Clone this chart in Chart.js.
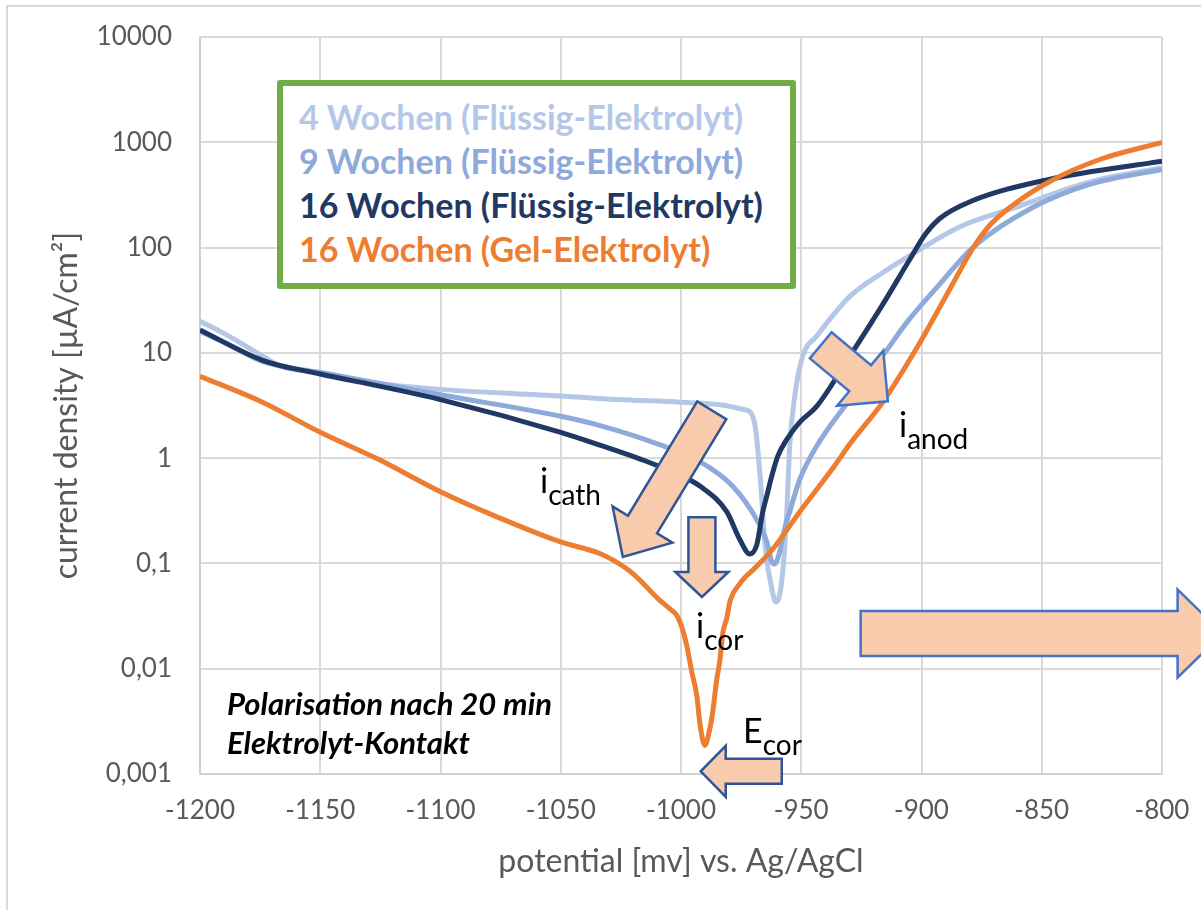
<!DOCTYPE html>
<html lang="de">
<head>
<meta charset="UTF-8" />
<title>Polarisationskurven</title>
<style>
  html, body { margin: 0; padding: 0; background: #fff; overflow: hidden; }
  #wrap { position: relative; width: 1201px; height: 910px; }
  #chart { position: absolute; left: 0; top: 0; }
  .legend {
    position: absolute; left: 277px; top: 80px; width: 519px; height: 209px;
    box-sizing: border-box; border: 6px solid #70ad47; border-radius: 3px;
    background: #fff; padding: 9px 0 0 16px;
    font-family: Lato, sans-serif; font-weight: bold; font-size: 34px; line-height: 44px;
    white-space: nowrap;
  }
  .note {
    position: absolute; left: 227px; top: 684px;
    font-family: Lato, sans-serif; font-weight: bold; font-style: italic;
    font-size: 31px; line-height: 39px; color: #000; white-space: nowrap;
  }
  .lbl {
    position: absolute; font-family: Lato, sans-serif; font-size: 34px; line-height: 1;
    color: #000; white-space: nowrap;
  }
  .lbl sub { font-size: 28px; vertical-align: -12px; line-height: 0; }
</style>
</head>
<body>
<div id="wrap">
  <canvas id="chart" width="1201" height="910"></canvas>

  <div class="legend">
    <div style="color:#b4c7e7">4 Wochen (Flüssig-Elektrolyt)</div>
    <div style="color:#8eaadb">9 Wochen (Flüssig-Elektrolyt)</div>
    <div style="color:#1f3864">16 Wochen (Flüssig-Elektrolyt)</div>
    <div style="color:#ed7d31">16 Wochen (Gel-Elektrolyt)</div>
  </div>

  <div class="note">Polarisation nach 20 min<br>Elektrolyt-Kontakt</div>

  <div class="lbl" style="left:540px; top:463px">i<sub>cath</sub></div>
  <div class="lbl" style="left:899px; top:407px">i<sub>anod</sub></div>
  <div class="lbl" style="left:696px; top:608px">i<sub>cor</sub></div>
  <div class="lbl" style="left:743px; top:713px">E<sub>cor</sub></div>
</div>

<script src="https://cdn.jsdelivr.net/npm/chart.js"></script>
<script>
  // Achsen
  const xTicks = [-1200, -1150, -1100, -1050, -1000, -950, -900, -850, -800];
  const yTicks = [0.001, 0.01, 0.1, 1, 10, 100, 1000, 10000];
  const yTickLabels = ['0,001', '0,01', '0,1', '1', '10', '100', '1000', '10000'];

  const seriesNames = [
    '4 Wochen (Flüssig-Elektrolyt)',
    '9 Wochen (Flüssig-Elektrolyt)',
    '16 Wochen (Flüssig-Elektrolyt)',
    '16 Wochen (Gel-Elektrolyt)'
  ];

  // Potential [mV] / Stromdichte [µA/cm²]
  const pot4 = [-1200, -1188, -1174, -1166, -1150, -1125, -1100, -1050, -1027, -1000, -983, -974, -971, -969, -967, -965, -962, -960.5, -958, -956, -954.8, -952.7, -949.4, -943.6, -930, -916, -902, -884, -860, -830, -800];
  const cur4 = [20, 14.4, 9.3, 7.4, 6.5, 5.1, 4.5, 3.9, 3.6, 3.4, 3.2, 2.9, 2.7, 1.9, 0.63, 0.146, 0.054, 0.043, 0.071, 0.31, 1.3, 3.9, 9.3, 14.4, 34, 58, 92, 158, 245, 420, 575];

  const pot9 = [-1200, -1188, -1174, -1150, -1100, -1050, -1034, -1013, -992, -978.5, -968.5, -964.3, -962.3, -961, -959, -957, -954.8, -950.6, -943.6, -929.8, -915.7, -905.7, -892.4, -878.7, -853.8, -830.1, -800];
  const cur9 = [16, 12, 8.3, 6.5, 4.0, 2.5, 2.05, 1.45, 0.92, 0.54, 0.26, 0.16, 0.105, 0.099, 0.128, 0.21, 0.31, 0.63, 1.3, 3.6, 9.7, 20, 45, 100, 240, 398, 552];

  const pot16 = [-1200, -1174, -1150, -1125, -1100, -1050, -1033.7, -1016.9, -1000.5, -992, -981, -975.6, -971.4, -968.5, -966, -964.3, -962.3, -959.8, -956, -950.6, -943.6, -929.8, -916.1, -904.9, -898.7, -892.4, -879.6, -847, -800];
  const cur16 = [16.5, 8.5, 6.3, 4.8, 3.6, 1.76, 1.33, 0.98, 0.69, 0.54, 0.31, 0.17, 0.123, 0.15, 0.31, 0.44, 0.67, 1.04, 1.51, 2.2, 3.1, 9.3, 28.9, 77, 131, 189, 274, 444, 660];

  const potGel = [-1200, -1174, -1150, -1126, -1100, -1077, -1050, -1034, -1027.5, -1020, -1009, -1004.6, -1001.7, -999.7, -997.6, -995.5, -993.4, -992.2, -990.1, -988, -986.8, -985.1, -983.9, -982.6, -981, -979.7, -975.6, -968.5, -961.8, -950.6, -936.9, -929.8, -916.1, -902, -888.3, -878.7, -871.7, -863.3, -846.7, -825.9, -800];
  const curGel = [6.0, 3.4, 1.76, 0.98, 0.48, 0.28, 0.16, 0.125, 0.105, 0.08, 0.045, 0.037, 0.032, 0.025, 0.0165, 0.0093, 0.0055, 0.0031, 0.00187, 0.0027, 0.0039, 0.008, 0.0117, 0.022, 0.030, 0.043, 0.064, 0.094, 0.137, 0.31, 0.80, 1.36, 3.4, 11.1, 40, 98, 162, 240, 424, 686, 995];

  const colors = ['#b4c7e7', '#8eaadb', '#1f3864', '#ed7d31'];

  function toPoints(xs, ys) {
    return xs.map((x, i) => ({ x: x, y: ys[i] }));
  }

  // Pfeile in Datenkoordinaten (Schaft/Spitze in px)
  const arrows = [
    { tail: [-987.2, 2.85], tip: [-1024.2, 0.115], shaft: 34, head: 70, headLen: 38, stroke: '#2f5597' },
    { tail: [-991.3, 0.275], tip: [-991.3, 0.048], shaft: 27, head: 53, headLen: 25, stroke: '#2f5597' },
    { tail: [-958.1, 0.00106], tip: [-991.8, 0.00106], shaft: 25, head: 51, headLen: 25, stroke: '#2f5597' },
    { tail: [-941.9, 11.8], tip: [-914.0, 3.47], shaft: 34, head: 72, headLen: 36, stroke: '#4472c4' },
    { tail: [-925.3, 0.0216], tip: [-774.8, 0.0216], shaft: 45, head: 88, headLen: 45, stroke: '#4472c4' }
  ];

  const frame = {
    id: 'frame',
    beforeDraw(chart) {
      const ctx = chart.ctx;
      ctx.save();
      ctx.strokeStyle = '#d9d9d9';
      ctx.lineWidth = 2;
      ctx.strokeRect(7, 6, 1400, 1000);
      ctx.restore();
    }
  };

  const arrowPlugin = {
    id: 'arrows',
    afterDatasetsDraw(chart) {
      const ctx = chart.ctx;
      const sx = chart.scales.x, sy = chart.scales.y;
      arrows.forEach(a => {
        const x0 = sx.getPixelForValue(a.tail[0]), y0 = sy.getPixelForValue(a.tail[1]);
        const x1 = sx.getPixelForValue(a.tip[0]), y1 = sy.getPixelForValue(a.tip[1]);
        const len = Math.hypot(x1 - x0, y1 - y0);
        const ux = (x1 - x0) / len, uy = (y1 - y0) / len;
        const nx = -uy, ny = ux;
        const jx = x1 - ux * a.headLen, jy = y1 - uy * a.headLen;
        const s = a.shaft / 2, h = a.head / 2;
        ctx.save();
        ctx.beginPath();
        ctx.moveTo(x0 + nx * s, y0 + ny * s);
        ctx.lineTo(jx + nx * s, jy + ny * s);
        ctx.lineTo(jx + nx * h, jy + ny * h);
        ctx.lineTo(x1, y1);
        ctx.lineTo(jx - nx * h, jy - ny * h);
        ctx.lineTo(jx - nx * s, jy - ny * s);
        ctx.lineTo(x0 - nx * s, y0 - ny * s);
        ctx.closePath();
        ctx.fillStyle = '#f8cbad';
        ctx.fill();
        ctx.lineWidth = 2.5;
        ctx.lineJoin = 'miter';
        ctx.strokeStyle = a.stroke;
        ctx.stroke();
        ctx.restore();
      });
    }
  };

  const allSeries = [[pot4, cur4], [pot9, cur9], [pot16, cur16], [potGel, curGel]];

  const chart = new Chart(document.getElementById('chart'), {
    type: 'scatter',
    data: {
      datasets: allSeries.map((s, i) => ({
        label: seriesNames[i],
        data: toPoints(s[0], s[1]),
        showLine: true,
        borderColor: colors[i],
        backgroundColor: colors[i],
        borderWidth: 5,
        pointRadius: 0,
        cubicInterpolationMode: 'monotone',
        order: 4 - i
      }))
    },
    options: {
      responsive: false,
      animation: false,
      layout: { padding: { left: 0, right: 39, top: 37, bottom: 0 } },
      plugins: {
        legend: { display: false },
        tooltip: { enabled: false }
      },
      scales: {
        x: {
          type: 'linear',
          min: -1200,
          max: -800,
          afterBuildTicks: s => { s.ticks = xTicks.map(v => ({ value: v })); },
          afterFit: s => {
            s.height = 136;
            s.paddingLeft = 0;
            s.paddingRight = 0;
          },
          ticks: {
            callback: v => String(v),
            font: { family: 'Lato', size: 26 },
            color: '#595959',
            padding: 21,
            maxRotation: 0
          },
          grid: { color: '#d9d9d9', lineWidth: 2, drawTicks: false },
          border: { color: '#d0d0d0', width: 2 },
          title: {
            display: true,
            text: 'potential [mv] vs. Ag/AgCl',
            font: { family: 'Lato', size: 32 },
            color: '#595959',
            padding: { top: 0, bottom: 29 }
          }
        },
        y: {
          type: 'logarithmic',
          min: 0.001,
          max: 10000,
          afterBuildTicks: s => { s.ticks = yTicks.map(v => ({ value: v })); },
          afterFit: s => {
            s.width = 200;
            s.paddingTop = 0;
            s.paddingBottom = 0;
          },
          ticks: {
            callback: v => yTickLabels[yTicks.indexOf(v)],
            font: { family: 'Lato', size: 26 },
            color: '#595959',
            padding: 28
          },
          grid: { color: '#d9d9d9', lineWidth: 2, drawTicks: false },
          border: { color: '#d0d0d0', width: 2 },
          title: {
            display: true,
            text: 'current density [µA/cm²]',
            font: { family: 'Lato', size: 32 },
            color: '#595959',
            padding: { top: 47, bottom: 0 }
          }
        }
      }
    },
    plugins: [frame, arrowPlugin]
  });
</script>
</body>
</html>
